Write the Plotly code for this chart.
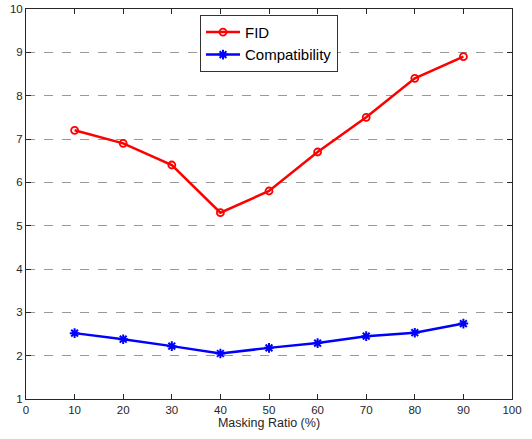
import plotly.graph_objects as go

masking_ratio = [10, 20, 30, 40, 50, 60, 70, 80, 90]
fid = [7.2, 6.9, 6.4, 5.3, 5.8, 6.7, 7.5, 8.4, 8.9]
compatibility = [2.52, 2.38, 2.22, 2.05, 2.18, 2.29, 2.45, 2.53, 2.74]
x_ticks = [0, 10, 20, 30, 40, 50, 60, 70, 80, 90, 100]
y_ticks = [1, 2, 3, 4, 5, 6, 7, 8, 9, 10]

fig = go.Figure()
fig.add_trace(go.Scatter(
    x=masking_ratio, y=fid, name="FID", mode="lines+markers",
    line=dict(color="#ff0000", width=2.5),
    marker=dict(symbol="circle-open", size=7, color="#ff0000", line=dict(width=1.8, color="#ff0000")),
))
fig.add_trace(go.Scatter(
    x=masking_ratio, y=compatibility, name="Compatibility", mode="lines+markers",
    line=dict(color="#0000ff", width=2.5),
    marker=dict(symbol="asterisk-open", size=8, color="#0000ff", line=dict(width=2, color="#0000ff")),
))

axis_font = dict(family="Liberation Sans, Arial, sans-serif", size=11.5, color="#262626")
fig.update_layout(
    width=532, height=439,
    margin=dict(l=26, r=20, t=9, b=40),
    paper_bgcolor="white", plot_bgcolor="white",
    showlegend=True,
    legend=dict(
        x=0.358, y=0.985, xanchor="left", yanchor="top",
        bgcolor="white", bordercolor="#333333", borderwidth=1,
        font=dict(family="Liberation Sans, Arial, sans-serif", size=15, color="black"),
        tracegroupgap=0, itemwidth=34,
    ),
    xaxis=dict(
        range=[0, 100], tickvals=x_ticks, ticks="inside", ticklen=5, tickcolor="#262626",
        showline=True, linecolor="#262626", linewidth=1, mirror="ticks",
        showgrid=False, zeroline=False, tickfont=axis_font, automargin=False,
        title=dict(text="Masking Ratio (%)", font=dict(family="Liberation Sans, Arial, sans-serif", size=12.5, color="#262626"), standoff=3),
    ),
    yaxis=dict(
        range=[1, 10], tickvals=y_ticks, ticks="inside", ticklen=5, tickcolor="#262626",
        showline=True, linecolor="#262626", linewidth=1, mirror="ticks",
        showgrid=True, gridcolor="#999999", griddash="dash", gridwidth=1,
        zeroline=False, tickfont=axis_font, automargin=False,
    ),
)
fig.write_html("out.html", config={"displayModeBar": False},
               post_script="document.body.style.margin='0';")
